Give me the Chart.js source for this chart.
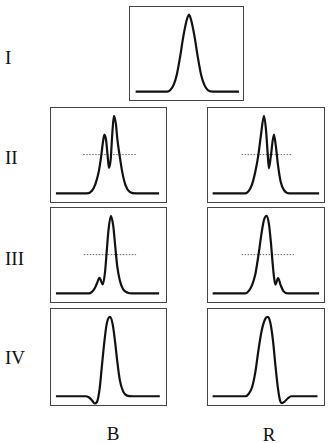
<!DOCTYPE html>
<html>
<head>
<meta charset="utf-8">
<script src="https://cdn.jsdelivr.net/npm/chart.js@4.4.1/dist/chart.umd.min.js"></script>
<style>
  html, body { margin: 0; padding: 0; background: #fff; }
  #stage { position: relative; width: 335px; height: 443px; overflow: hidden; }
  .box { position: absolute; box-sizing: border-box; border: 1px solid #444; }
  .box canvas { display: block; }
  .lbl { position: absolute; font-family: "Liberation Serif", "DejaVu Serif", serif; font-size: 19px; line-height: 1; color: #111; transform: translateY(-50%); white-space: nowrap; }
  .col { transform: translate(-50%, -50%); }
</style>
</head>
<body>
<div id="stage"></div>
<script>
// ---- labels ----
const rowLabels = ['I', 'II', 'III', 'IV'];
const columnLabels = ['B', 'R'];

// ---- curve data (x: 0..100 across each panel, y: 0 = baseline, 100 = tallest peak) ----
const xI = [5, 32.8, 35.7, 38.6, 41.4, 44.3, 47.2, 50.1, 52.2, 54.2, 57.1, 60, 62.9, 65.8, 68.7, 73.3, 96.5];
const yI = [0, 0, 2.1, 8.7, 22, 44.8, 71.8, 92.5, 100, 92.5, 71.8, 44.8, 22, 8.7, 2.1, 0, 0];

const xIIB = [4.3, 31.3, 35.6, 38.5, 41.3, 43.6, 45, 46.4, 47.9, 49.3, 50.4, 51.9, 53.3, 54.7, 56.4, 57.8, 59.8, 62.1, 65, 68.4, 74.1, 94];
const yIIB = [0, 0, 3.4, 11.8, 26.5, 47.5, 64.3, 75.6, 68.5, 47.5, 32.8, 43.7, 76.9, 100, 89.5, 68.5, 47.5, 26.5, 9.7, 2.1, 0, 0];

const xIIR = [4, 32.2, 35, 37.9, 40.7, 43.5, 45.5, 48.3, 50, 51.4, 52.5, 54.2, 56.8, 58.5, 60.4, 62.7, 65.5, 70.3, 95.8];
const yIIR = [0, 0, 2.9, 11.3, 27.3, 50.4, 73.5, 100, 81.9, 52.5, 32.4, 48.3, 75.6, 60.9, 35.7, 14.7, 4.2, 0, 0];

const xIIIB = [4.3, 32.8, 35.6, 37.9, 39.9, 42.2, 45, 47, 48.4, 50.1, 52.1, 54.1, 55.8, 57.5, 59.8, 62.7, 66.9, 70, 94];
const yIIIB = [0, 0, 2.1, 6.4, 12.8, 20, 11.5, 27.7, 53.2, 83, 100, 87.2, 61.7, 36.2, 17, 5.5, 0.9, 0, 0];

const xIIIR = [4, 32.2, 35, 37.9, 40.7, 43.5, 46.3, 48.3, 50.6, 52.5, 54.2, 55.6, 57, 58.2, 60.4, 62.7, 65, 68.9, 95.8];
const yIIIR = [0, 0, 3, 10.5, 24, 49.4, 78.9, 94.9, 100, 89.5, 66.2, 40.9, 19.8, 11.4, 19.8, 10.5, 3, 0, 0];

const xIVB = [4.3, 29.9, 32.8, 35.6, 37.9, 39.9, 42.2, 44.2, 46.2, 48.4, 51.3, 53.6, 55.6, 57.5, 59.8, 62.7, 66.1, 71.2, 94.6];
const yIVB = [0, 0, -1.2, -5, -9.1, -7.4, 8.3, 37.2, 66.1, 90.9, 100, 90.9, 70.2, 45.5, 20.7, 6.2, 0.8, 0, 0];

const xIVR = [4, 32.2, 35, 37.9, 40.7, 43.5, 46.3, 49.2, 51.4, 53.7, 56, 58.2, 60.4, 62.1, 63.8, 66.1, 68.9, 71.8, 94.4];
const yIVR = [0, 0, 2.9, 11.1, 29.5, 58.2, 82.8, 97.1, 100, 93, 70.5, 37.7, 9, -5.3, -8.6, -6.6, -2.5, 0, 0];

// half-maximum dotted reference lines
const halfLevel = 50;
const dotXIIB = [28, 74];
const dotXIIR = [29, 73];
const dotXIIIB = [28.5, 74];
const dotXIIIR = [29, 74];

// ---- layout (positions only) ----
const panels = [
  { left: 129, top: 6,   w: 115, h: 95, xs: xI,    ys: yI,    dot: null },
  { left: 50,  top: 107, w: 117, h: 96, xs: xIIB,  ys: yIIB,  dot: dotXIIB },
  { left: 207, top: 107, w: 118, h: 96, xs: xIIR,  ys: yIIR,  dot: dotXIIR },
  { left: 50,  top: 207, w: 117, h: 96, xs: xIIIB, ys: yIIIB, dot: dotXIIIB },
  { left: 207, top: 207, w: 118, h: 96, xs: xIIIR, ys: yIIIR, dot: dotXIIIR },
  { left: 50,  top: 308, w: 117, h: 98, xs: xIVB,  ys: yIVB,  dot: null },
  { left: 207, top: 308, w: 118, h: 98, xs: xIVR,  ys: yIVR,  dot: null }
];
const rowLabelY = [57, 157, 258, 357];
const colLabelPos = [[113, 433], [269, 434]];

const stage = document.getElementById('stage');

rowLabels.forEach((t, i) => {
  const d = document.createElement('div');
  d.className = 'lbl';
  d.textContent = t;
  d.style.left = '5px';
  d.style.top = rowLabelY[i] + 'px';
  stage.appendChild(d);
});
columnLabels.forEach((t, i) => {
  const d = document.createElement('div');
  d.className = 'lbl col';
  d.textContent = t;
  d.style.left = colLabelPos[i][0] + 'px';
  d.style.top = colLabelPos[i][1] + 'px';
  stage.appendChild(d);
});

panels.forEach(p => {
  const box = document.createElement('div');
  box.className = 'box';
  box.style.left = p.left + 'px';
  box.style.top = p.top + 'px';
  box.style.width = p.w + 'px';
  box.style.height = p.h + 'px';
  const cv = document.createElement('canvas');
  cv.width = p.w - 2;
  cv.height = p.h - 2;
  cv.style.width = (p.w - 2) + 'px';
  cv.style.height = (p.h - 2) + 'px';
  box.appendChild(cv);
  stage.appendChild(box);

  const datasets = [{
    data: p.xs.map((x, i) => ({ x: x, y: p.ys[i] })),
    borderColor: '#111',
    borderWidth: 2.2,
    pointRadius: 0,
    fill: false,
    cubicInterpolationMode: 'monotone',
    clip: false
  }];
  if (p.dot) {
    datasets.push({
      data: p.dot.map(x => ({ x: x, y: halfLevel })),
      borderColor: '#666',
      borderWidth: 1,
      borderDash: [1.5, 1.5],
      pointRadius: 0,
      fill: false,
      tension: 0
    });
  }
  new Chart(cv, {
    type: 'line',
    data: { datasets: datasets },
    options: {
      responsive: false,
      animation: false,
      devicePixelRatio: 1,
      events: [],
      layout: { padding: 0 },
      plugins: { legend: { display: false }, tooltip: { enabled: false } },
      scales: {
        x: { type: 'linear', min: 0, max: 100, display: false },
        y: { type: 'linear', min: -11, max: 110, display: false }
      }
    }
  });
});
</script>
</body>
</html>
